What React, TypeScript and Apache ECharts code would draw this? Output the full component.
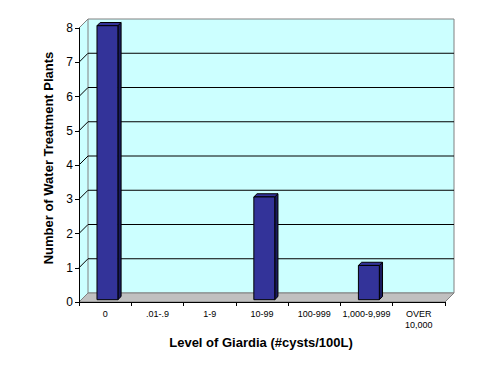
import React, { useEffect, useRef } from "react";
import * as echarts from "echarts";

const categories = ["0", ".01-.9", "1-9", "10-99", "100-999", "1,000-9,999", "OVER\n10,000"];
const plants = [8, 0, 0, 3, 0, 1, 0];
const yTicks = [0, 1, 2, 3, 4, 5, 6, 7, 8];

const WALL = 9;
const BAR_D1 = 2.3;
const BAR_D2 = 5.5;

export default function App() {
  const ref = useRef<HTMLDivElement>(null);
  useEffect(() => {
    document.body.style.margin = "0";
    const chart = echarts.init(ref.current!, null, { renderer: "svg" });
    const font = "'Liberation Sans', Arial, sans-serif";
    chart.setOption({
      animation: false,
      backgroundColor: "#ffffff",
      grid: { left: 79, right: 46, top: 28, bottom: 72, containLabel: false },
      xAxis: {
        type: "category",
        data: categories,
        boundaryGap: true,
        z: 5,
        axisLine: { show: true, lineStyle: { color: "#000", width: 1 } },
        axisTick: { show: true, alignWithLabel: false, length: 4, lineStyle: { color: "#000" } },
        axisLabel: { color: "#000", fontSize: 9, fontFamily: font, margin: 6, interval: 0, lineHeight: 11 },
        splitLine: { show: false },
      },
      yAxis: {
        type: "value",
        min: yTicks[0],
        max: yTicks[yTicks.length - 1],
        interval: 1,
        z: 5,
        axisLine: { show: true, lineStyle: { color: "#000", width: 1 } },
        axisTick: { show: true, length: 4, lineStyle: { color: "#000" } },
        axisLabel: { color: "#000", fontSize: 12, fontFamily: font, margin: 6 },
        splitLine: { show: false },
      },
      graphic: [
        {
          type: "text",
          x: 48,
          y: 158,
          rotation: Math.PI / 2,
          style: {
            text: "Number of Water Treatment Plants",
            font: `bold 13px ${font}`,
            fill: "#000",
            align: "center",
            verticalAlign: "middle",
          },
        },
        {
          type: "text",
          x: 261,
          y: 342,
          style: {
            text: "Level of Giardia (#cysts/100L)",
            font: `bold 13px ${font}`,
            fill: "#000",
            align: "center",
            verticalAlign: "middle",
          },
        },
      ],
      series: [
        {
          type: "custom",
          data: [[0, 0]],
          z: 1,
          silent: true,
          renderItem: (params: any, api: any) => {
            const cs = params.coordSys;
            const x0 = cs.x;
            const x1 = cs.x + cs.width;
            const yT = cs.y;
            const yB = cs.y + cs.height;
            const D = WALL;
            const children: any[] = [
              {
                type: "polygon",
                shape: { points: [[x0, yT], [x0 + D, yT - D], [x0 + D, yB - D], [x0, yB]] },
                style: { fill: "#CCFFFF", stroke: "none" },
              },
              {
                type: "rect",
                shape: { x: x0 + D, y: yT - D, width: x1 - x0, height: yB - yT },
                style: { fill: "#CCFFFF", stroke: "#808080", lineWidth: 1 },
              },
              {
                type: "polygon",
                shape: { points: [[x0, yB], [x1, yB], [x1 + D, yB - D], [x0 + D, yB - D]] },
                style: { fill: "#C0C0C0", stroke: "#808080", lineWidth: 1 },
              },
            ];
            yTicks.forEach((v) => {
              if (v === 0) return;
              const y = api.coord([0, v])[1];
              const col = v === yTicks[yTicks.length - 1] ? "#808080" : "#000";
              children.push({
                type: "line",
                shape: { x1: x0, y1: y, x2: x0 + D, y2: y - D },
                style: { stroke: col, lineWidth: 1 },
              });
              if (v !== yTicks[yTicks.length - 1]) {
                children.push({
                  type: "line",
                  shape: { x1: x0 + D, y1: y - D, x2: x1 + D, y2: y - D },
                  style: { stroke: "#000", lineWidth: 1 },
                });
              }
            });
            return { type: "group", children };
          },
        },
        {
          type: "custom",
          data: plants.map((v, i) => [i, v]),
          encode: { x: 0, y: 1 },
          z: 3,
          renderItem: (params: any, api: any) => {
            const v = api.value(1);
            if (!v) return null;
            const top = api.coord([api.value(0), v]);
            const bot = api.coord([api.value(0), 0]);
            const bw = api.size([1, 0])[0] * 0.4;
            const xl = top[0] - bw / 2 + BAR_D1;
            const xr = top[0] + bw / 2 + BAR_D1;
            const yt = top[1] - BAR_D1;
            const yb = bot[1] - BAR_D1;
            const dd = BAR_D2 - BAR_D1;
            return {
              type: "group",
              children: [
                {
                  type: "polygon",
                  shape: { points: [[xr, yt], [xr + dd, yt - dd], [xr + dd, yb - dd], [xr, yb]] },
                  style: { fill: "#1A1A5E", stroke: "#000", lineWidth: 1 },
                },
                {
                  type: "polygon",
                  shape: { points: [[xl, yt], [xr, yt], [xr + dd, yt - dd], [xl + dd, yt - dd]] },
                  style: { fill: "#333399", stroke: "#000", lineWidth: 1 },
                },
                {
                  type: "rect",
                  shape: { x: xl, y: yt, width: xr - xl, height: yb - yt },
                  style: { fill: "#333399", stroke: "#000", lineWidth: 1 },
                },
              ],
            };
          },
        },
      ],
    });
    return () => chart.dispose();
  }, []);
  return <div ref={ref} style={{ width: 491, height: 374 }} />;
}
